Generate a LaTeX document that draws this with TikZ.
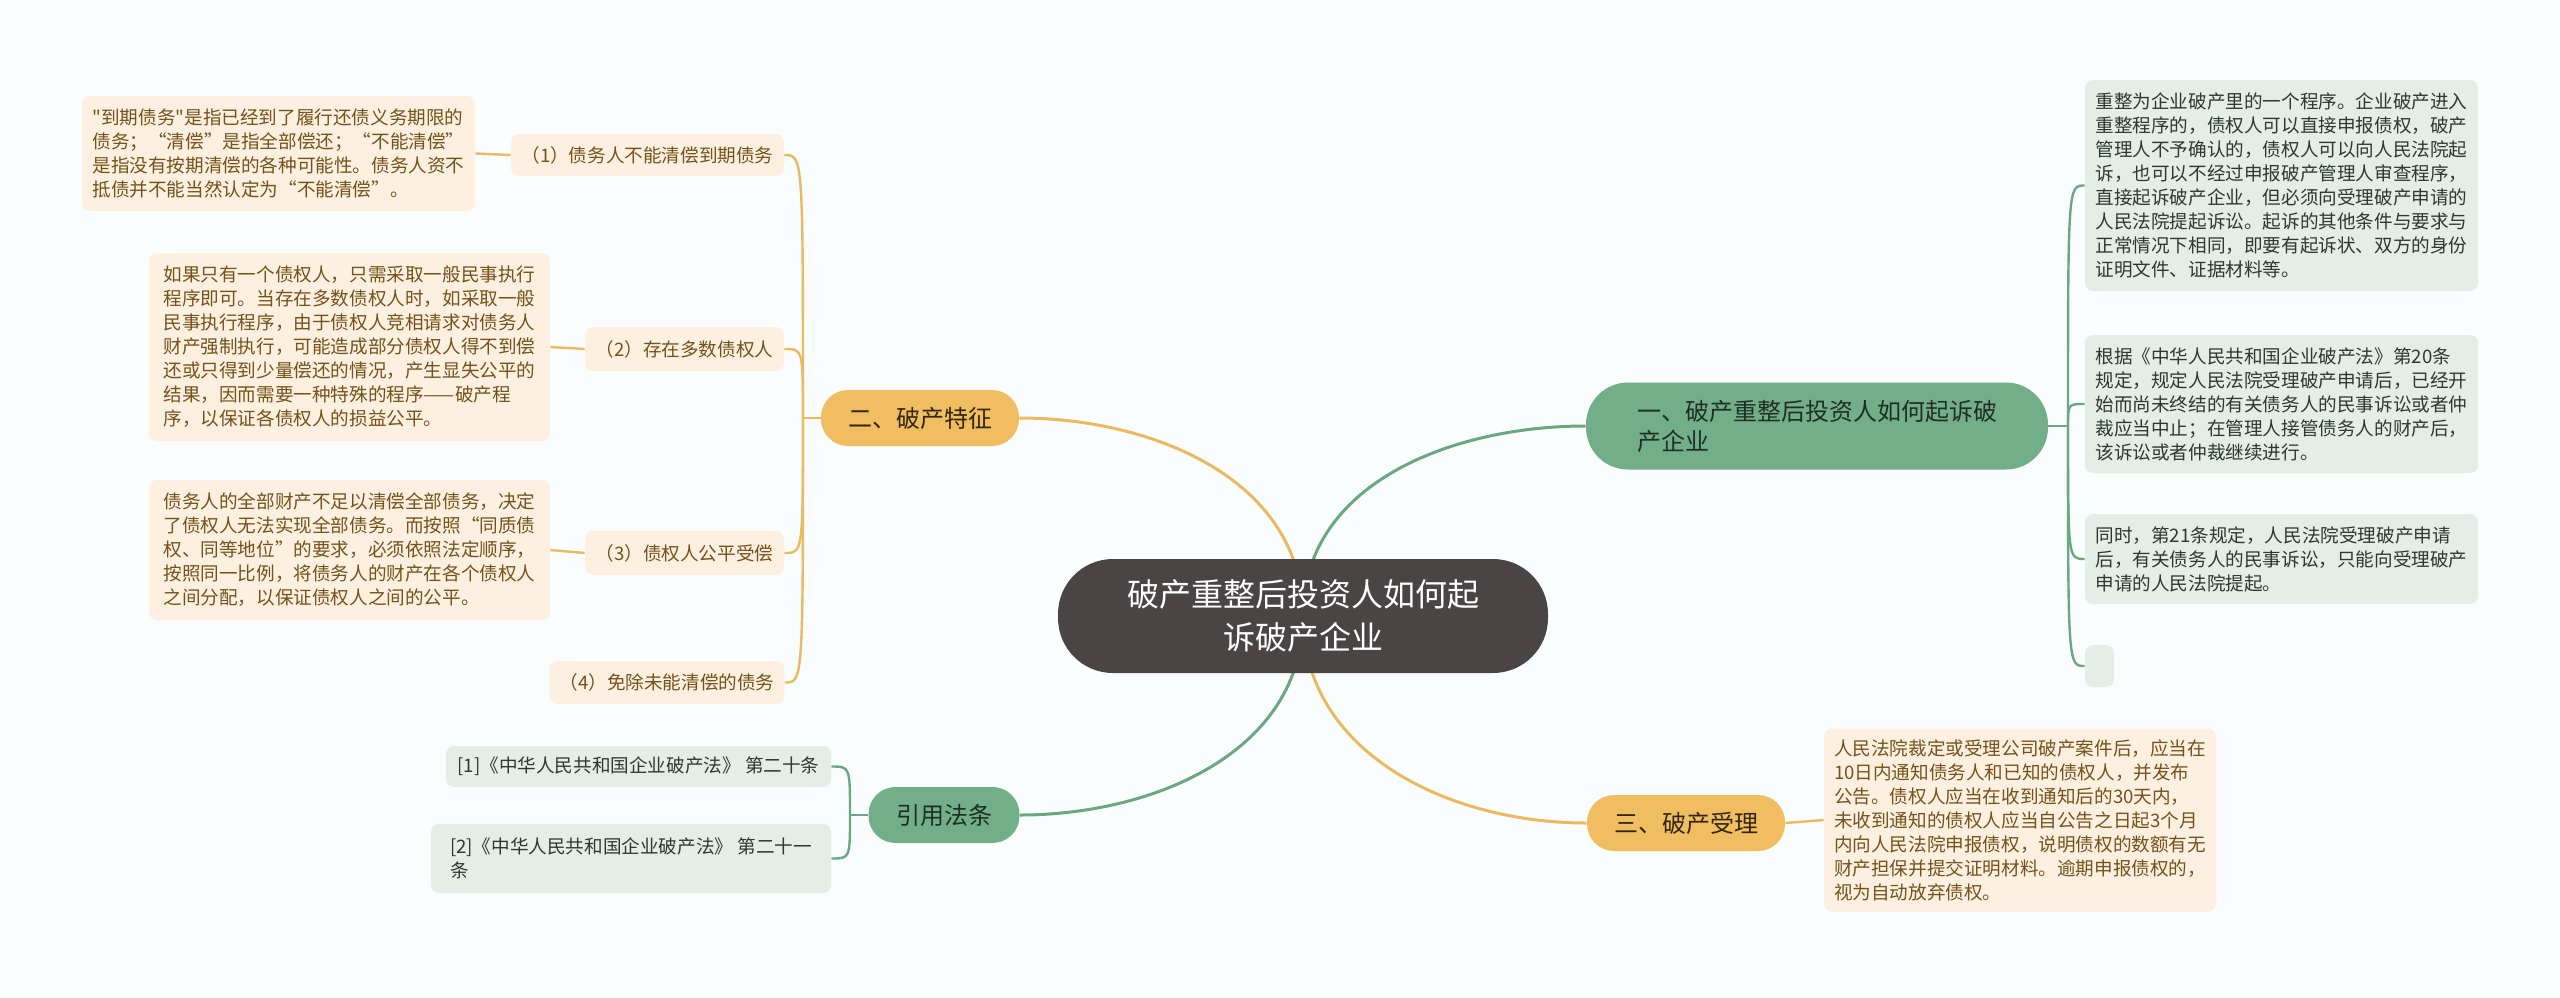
\documentclass[tikz,border=0pt]{standalone}
\usepackage{fontspec}
\setmainfont{Noto Sans CJK SC}[Ligatures=TeXOff]
\usetikzlibrary{backgrounds}
\definecolor{bgcol}{HTML}{F9FDFD}
\definecolor{rootfill}{HTML}{4A4544}
\definecolor{ofill}{HTML}{F0BD60}
\definecolor{gfill}{HTML}{72AE88}
\definecolor{oleaffill}{HTML}{FDF0E1}
\definecolor{gleaffill}{HTML}{E4EEE7}
\definecolor{oline}{HTML}{EAB962}
\definecolor{gline}{HTML}{6BA882}
\definecolor{otext}{HTML}{74521A}
\definecolor{obtext}{HTML}{33250E}
\definecolor{gtext}{HTML}{2C3830}
\definecolor{gbtext}{HTML}{1F2F24}

\begin{document}
\begin{tikzpicture}[
		x=0.5pt, y=-0.5pt,
		rootnode/.style={fill=rootfill, text=white, rounded corners=27.5pt, minimum width=245pt, minimum height=57pt, align=center, font=\fontsize{16pt}{21.5pt}\selectfont},
		branch/.style={rounded corners=13.5pt, minimum height=28pt, align=left, font=\fontsize{12pt}{15pt}\selectfont},
		obranch/.style={branch, fill=ofill, text=obtext},
		gbranch/.style={branch, fill=gfill, text=gbtext},
		leaf/.style={rounded corners=4pt, align=left, inner xsep=5pt, font=\fontsize{9.3pt}{12pt}\selectfont},
		oleaf/.style={leaf, fill=oleaffill, text=otext},
		gleaf/.style={leaf, fill=gleaffill, text=gtext},
		olink/.style={draw=oline, line width=1.2pt},
		glink/.style={draw=gline, line width=1.2pt}
		]
		
		\node[rootnode] (root) at (1303,616) {破产重整后投资人如何起\\诉破产企业};
		
		\node[gbranch, minimum width=231pt, minimum height=43.5pt, rounded corners=21pt] (b1) at (1817,426) {一、破产重整后投资人如何起诉破\\产企业};
		\node[obranch, minimum width=99pt] (b2) at (920,418) {二、破产特征};
		\node[gbranch, minimum width=75.5pt] (b3) at (944,815) {引用法条};
		\node[obranch, minimum width=99pt] (b4) at (1686,823) {三、破产受理};
		
		\node[oleaf, minimum width=196.5pt, minimum height=57.5pt] (t1) at (278.5,153.5) {"到期债务"是指已经到了履行还债义务期限的\\债务；“清偿”是指全部偿还；“不能清偿”\\是指没有按期清偿的各种可能性。债务人资不\\抵债并不能当然认定为“不能清偿”。};
		\node[oleaf, minimum width=136.5pt, minimum height=21pt] (l1) at (647.5,155) {（1）债务人不能清偿到期债务};
		\node[oleaf, minimum width=200.5pt, minimum height=94pt] (t2) at (349.5,347) {如果只有一个债权人，只需采取一般民事执行\\程序即可。当存在多数债权人时，如采取一般\\民事执行程序，由于债权人竞相请求对债务人\\财产强制执行，可能造成部分债权人得不到偿\\还或只得到少量偿还的情况，产生显失公平的\\结果，因而需要一种特殊的程序——破产程\\序，以保证各债权人的损益公平。};
		\node[oleaf, minimum width=99.5pt, minimum height=22pt] (l2) at (684.5,349) {（2）存在多数债权人};
		\node[oleaf, minimum width=200.5pt, minimum height=70pt] (t3) at (349.5,550) {债务人的全部财产不足以清偿全部债务，决定\\了债权人无法实现全部债务。而按照“同质债\\权、同等地位”的要求，必须依照法定顺序，\\按照同一比例，将债务人的财产在各个债权人\\之间分配，以保证债权人之间的公平。};
		\node[oleaf, minimum width=99.5pt, minimum height=22pt] (l3) at (684.5,553) {（3）债权人公平受偿};
		\node[oleaf, minimum width=117pt, minimum height=21.5pt] (l4) at (667,682.5) {（4）免除未能清偿的债务};
		
		\node[gleaf, minimum width=192.5pt, minimum height=20.5pt] (r1) at (638.5,766.5) {[1]《中华人民共和国企业破产法》 第二十条};
		\node[gleaf, minimum width=200pt, minimum height=34.5pt] (r2) at (631,858.5) {[2]《中华人民共和国企业破产法》 第二十一\\条};
		
		\node[gleaf, minimum width=196.5pt, minimum height=105.5pt] (g1) at (2281.5,185.5) {重整为企业破产里的一个程序。企业破产进入\\重整程序的，债权人可以直接申报债权，破产\\管理人不予确认的，债权人可以向人民法院起\\诉，也可以不经过申报破产管理人审查程序，\\直接起诉破产企业，但必须向受理破产申请的\\人民法院提起诉讼。起诉的其他条件与要求与\\正常情况下相同，即要有起诉状、双方的身份\\证明文件、证据材料等。};
		\node[gleaf, minimum width=196.5pt, minimum height=69pt] (g2) at (2281.5,404) {根据《中华人民共和国企业破产法》第20条\\规定，规定人民法院受理破产申请后，已经开\\始而尚未终结的有关债务人的民事诉讼或者仲\\裁应当中止；在管理人接管债务人的财产后，\\该诉讼或者仲裁继续进行。};
		\node[gleaf, minimum width=196.5pt, minimum height=45pt] (g3) at (2281.5,559) {同时，第21条规定，人民法院受理破产申请\\后，有关债务人的民事诉讼，只能向受理破产\\申请的人民法院提起。};
		\node[gleaf, minimum width=14.5pt, minimum height=21pt] (g4) at (2099.5,666) {};
		
		\node[oleaf, minimum width=196pt, minimum height=91.5pt] (o1) at (2020,820) {人民法院裁定或受理公司破产案件后，应当在\\10日内通知债务人和已知的债权人，并发布\\公告。债权人应当在收到通知后的30天内，\\未收到通知的债权人应当自公告之日起3个月\\内向人民法院申报债权，说明债权的数额有无\\财产担保并提交证明材料。逾期申报债权的，\\视为自动放弃债权。};
		
		\coordinate (p1) at (2068,426);
		\coordinate (p2) at (803,418);
		\coordinate (p3) at (850,815);
		
		\begin{pgfonlayer}{background}
			\fill[bgcol] (0,0) rectangle (2560,997);
			\draw[olink, line width=1.5pt] (root.center) to[out=90,in=0] (b2.east);
			\draw[glink, line width=1.5pt] (root.center) to[out=90,in=180] (b1.west);
			\draw[glink, line width=1.5pt] (root.center) to[out=-90,in=0] (b3.east);
			\draw[olink, line width=1.5pt] (root.center) to[out=-90,in=180] (b4.west);
			\draw[glink] (b1.east) -- (p1);
			\foreach \n in {g1,g2,g3,g4}
				\draw[glink] (p1) .. controls (p1 |- \n.west) .. (\n.west);
			\draw[olink] (b2.west) -- (p2);
			\foreach \n in {l1,l2,l3,l4}
				\draw[olink] (p2) .. controls (p2 |- \n.east) .. (\n.east);
			\foreach \t/\l in {t1/l1,t2/l2,t3/l3}
				\draw[olink] (\l.west) -- (\t.east);
			\draw[glink] (b3.west) -- (p3);
			\foreach \n in {r1,r2}
				\draw[glink] (p3) .. controls (p3 |- \n.east) .. (\n.east);
			\draw[olink] (b4.east) -- (o1.west);
		\end{pgfonlayer}
		
	\end{tikzpicture}
\end{document}
